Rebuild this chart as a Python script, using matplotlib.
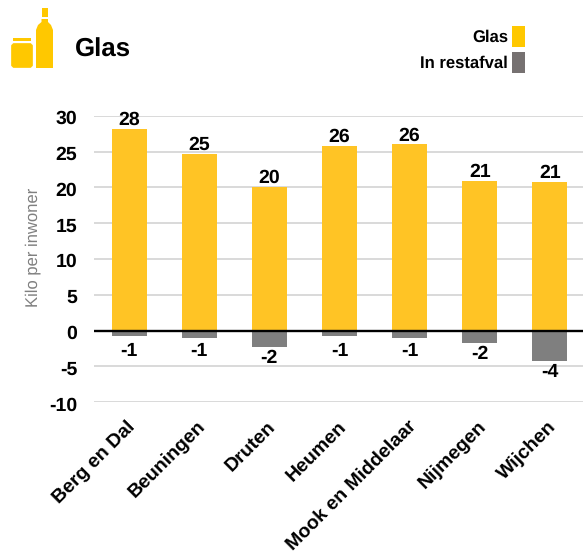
import matplotlib
matplotlib.use("Agg")
import matplotlib.pyplot as plt
from matplotlib.patches import Rectangle, FancyBboxPatch, Polygon
from matplotlib.transforms import ScaledTranslation

plt.rcParams['font.family'] = ['Liberation Sans', 'DejaVu Sans']
plt.rcParams['text.hinting'] = 'none'

gemeenten = ["Berg en Dal", "Beuningen", "Druten", "Heumen", "Mook en Middelaar", "Nijmegen", "Wijchen"]
glas = [28.2, 24.7, 20.1, 25.8, 26.0, 20.9, 20.7]
restafval = [-0.7, -1.0, -2.3, -0.7, -1.05, -1.8, -4.25]
glas_labels = ["28", "25", "20", "26", "26", "21", "21"]
rest_labels = ["-1", "-1", "-2", "-1", "-1", "-2", "-4"]
yticks = [-10, -5, 0, 5, 10, 15, 20, 25, 30]

W, H = 583, 555
geel = "#FFC425"
grijs = "#7F7F7F"

fig = plt.figure(figsize=(W/100, H/100), dpi=100)

# axes placed in pixels: y=30 at 115.7, y=-10 at 402.1
ax = fig.add_axes([94/W, 1-402.1/H, 491/W, 286.4/H])
x = range(len(gemeenten))
ax.bar(x, glas, width=0.5, color=geel, zorder=2)
ax.bar(x, restafval, width=0.5, color=grijs, zorder=2)
ax.axhline(0, color="black", lw=1.7, zorder=3)

for i in x:
    ax.text(i, glas[i]+0.55, glas_labels[i], ha="center", va="baseline", fontsize=14, fontweight="bold", zorder=4)
    # labels stay below the bar, but never closer to the axis than -3.5
    ax.text(i, min(restafval[i]-2.2, -3.5), rest_labels[i], ha="center", va="baseline", fontsize=14, fontweight="bold", zorder=4)

ax.set_xlim(-0.5, 6.5)
ax.set_ylim(-10, 30)
ax.set_yticks(yticks)
ax.set_yticklabels([str(t) for t in yticks], fontsize=14, fontweight="bold")
ax.set_xticks(list(x))
ax.set_xticklabels(gemeenten, rotation=45, ha="right", rotation_mode="anchor", fontsize=14, fontweight="bold")
ax.tick_params(axis="both", length=0)
ax.tick_params(axis="y", pad=12)
ax.tick_params(axis="x", pad=11)
shift = ScaledTranslation(-2/72, 0, fig.dpi_scale_trans)
for lab in ax.get_xticklabels():
    lab.set_transform(lab.get_transform() + shift)
shift_y = ScaledTranslation(0, -1/72, fig.dpi_scale_trans)
for lab in ax.get_yticklabels():
    lab.set_transform(lab.get_transform() + shift_y)
ax.grid(axis="y", color="#D9D9D9", lw=1.4, zorder=0)
ax.set_axisbelow(True)
for s in ax.spines.values():
    s.set_visible(False)
ax.set_ylabel("Kilo per inwoner", fontsize=12, color="#808080")
ax.yaxis.set_label_coords((41-94)/491, 0.54)

# overlay in pixel coordinates for the icon, title and legend
ov = fig.add_axes([0, 0, 1, 1], zorder=5)
ov.set_xlim(0, W)
ov.set_ylim(H, 0)
ov.axis("off")
icon = "#FFC800"
ov.add_patch(Rectangle((13, 38), 18, 3.3, color=icon, lw=0))
ov.add_patch(FancyBboxPatch((11.5, 43.5), 21, 24, boxstyle="round,pad=0,rounding_size=3", fc=icon, ec=icon, lw=0.5))
ov.add_patch(Rectangle((41.5, 8), 6.5, 9, color=icon, lw=0))
ov.add_patch(Polygon([(41.5, 19), (48, 19), (48, 22), (51, 25), (53, 30), (53, 68), (36, 68), (36, 30), (38, 25), (41.5, 22)], closed=True, color=icon, lw=0))
ov.text(75, 57, "Glas", fontsize=18.6, fontweight="bold", va="baseline", ha="left")
ov.text(508, 41.7, "Glas", fontsize=12, fontweight="bold", va="baseline", ha="right")
ov.text(508, 68, "In restafval", fontsize=12, fontweight="bold", va="baseline", ha="right")
ov.add_patch(Rectangle((512, 26), 13, 21, color="#FFC800", lw=0))
ov.add_patch(Rectangle((512, 52), 13, 21, color="#767171", lw=0))

fig.savefig("out.png", dpi=100)
